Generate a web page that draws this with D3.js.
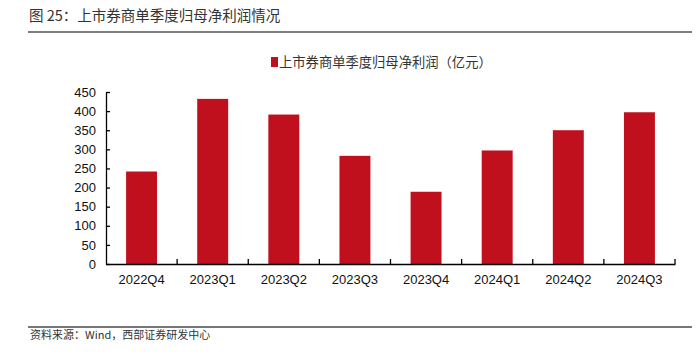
<!DOCTYPE html>
<html>
<head>
<meta charset="utf-8">
<script src="https://cdn.jsdelivr.net/npm/d3@7"></script>
<style>
  html, body { margin: 0; padding: 0; background: #fff; }
  svg { display: block; }
</style>
</head>
<body>
<svg id="chart" width="700" height="361"></svg>
<script>
const categories = ["2022Q4", "2023Q1", "2023Q2", "2023Q3", "2023Q4", "2024Q1", "2024Q2", "2024Q3"];
const profit = [242, 432, 391, 283, 189, 297, 350, 397];
const yTicks = [0, 50, 100, 150, 200, 250, 300, 350, 400, 450];
const titleText = "图 25：上市券商单季度归母净利润情况";
const legendText = "上市券商单季度归母净利润（亿元）";
const sourceText = "资料来源：Wind，西部证券研发中心";

(function () {
const svg = d3.select("#chart");
const CJK = "'Noto Sans CJK SC', 'Liberation Sans', sans-serif";
const LAT = "'Liberation Sans', Arial, sans-serif";
const red = "#C00F1D";

const plotL = 106, plotR = 675, plotT = 92, plotB = 264;

const x = d3.scaleBand().domain(categories).range([plotL, plotR])
  .paddingInner(0.565).paddingOuter(0.2825);
const y = d3.scaleLinear().domain([0, 450]).range([plotB, plotT]);

// Title
svg.append("text").attr("x", 29).attr("y", 20.5)
  .attr("font-family", CJK).attr("font-size", 14.5).attr("fill", "#333")
  .text(titleText);
svg.append("line").attr("x1", 28).attr("x2", 692).attr("y1", 32).attr("y2", 32)
  .attr("stroke", "#555").attr("stroke-width", 1.3);

// Legend
svg.append("rect").attr("x", 271).attr("y", 57).attr("width", 7).attr("height", 10)
  .attr("fill", red);
svg.append("text").attr("x", 279).attr("y", 66.5)
  .attr("font-family", CJK).attr("font-size", 13.3).attr("fill", "#333")
  .text(legendText);

// Bars
svg.append("g").selectAll("rect").data(categories).join("rect")
  .attr("x", d => x(d))
  .attr("width", x.bandwidth())
  .attr("y", (d, i) => y(profit[i]))
  .attr("height", (d, i) => y(0) - y(profit[i]))
  .attr("fill", red);

// Y axis
const yAxis = svg.append("g").attr("transform", `translate(${plotL},0)`)
  .call(d3.axisLeft(y).tickValues(yTicks).tickSize(-4).tickPadding(10).tickSizeOuter(0));
yAxis.select(".domain").attr("stroke", "#000").attr("stroke-width", 1.3);
yAxis.selectAll(".tick line").attr("stroke", "#000").attr("stroke-width", 1.3);
yAxis.selectAll(".tick text").attr("font-family", LAT).attr("font-size", 13).attr("fill", "#111");

// X axis
const xAxis = svg.append("g").attr("transform", `translate(0,${plotB})`)
  .call(d3.axisBottom(x).tickSize(0).tickPadding(11).tickSizeOuter(0));
xAxis.select(".domain").attr("stroke", "#000").attr("stroke-width", 1.5);
xAxis.selectAll(".tick text").attr("font-family", LAT).attr("font-size", 13).attr("fill", "#111");

// Category boundary ticks (pointing up)
const bounds = d3.range(1, categories.length + 1).map(i => plotL + i * x.step());
svg.append("g").selectAll("line").data(bounds).join("line")
  .attr("x1", d => d).attr("x2", d => d)
  .attr("y1", plotB).attr("y2", plotB - 5)
  .attr("stroke", "#000").attr("stroke-width", 1.3);

// Bottom rule and source
svg.append("line").attr("x1", 28).attr("x2", 692).attr("y1", 327).attr("y2", 327)
  .attr("stroke", "#777").attr("stroke-width", 2);
svg.append("text").attr("x", 30).attr("y", 338.5)
  .attr("font-family", CJK).attr("font-size", 11).attr("fill", "#333")
  .text(sourceText);
})();
</script>
</body>
</html>
